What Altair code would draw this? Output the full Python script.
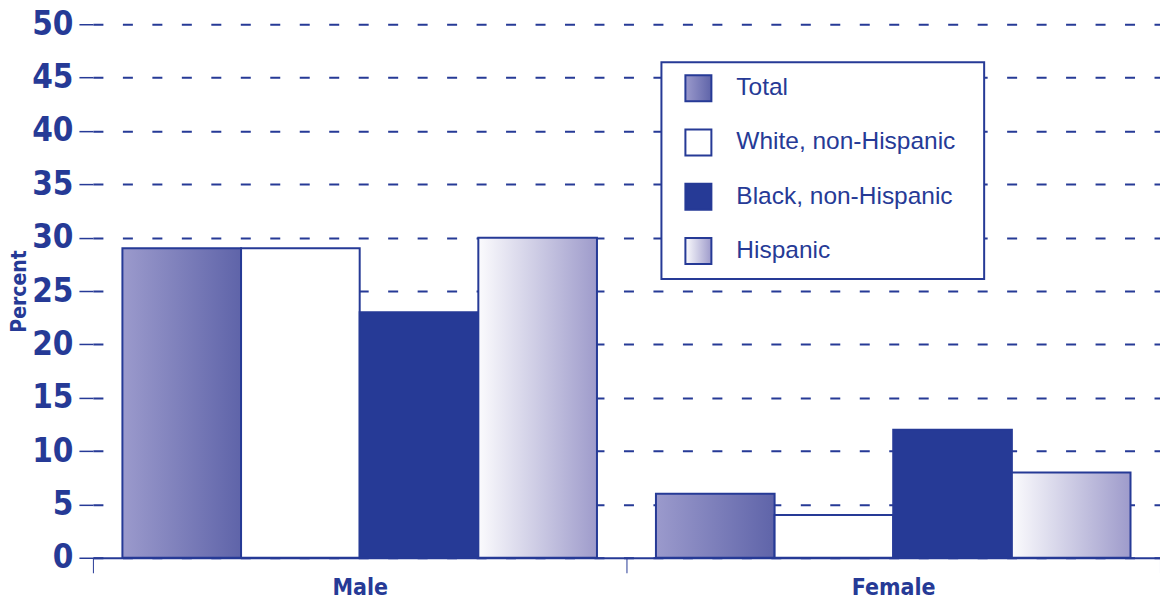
import altair as alt
import pandas as pd

# ---- data ----
sexes = ["Male", "Female"]
series = ["Total", "White, non-Hispanic", "Black, non-Hispanic", "Hispanic"]
male_pct = [29, 29, 23, 30]
female_pct = [6, 4, 12, 8]
y_ticks = [0, 5, 10, 15, 20, 25, 30, 35, 40, 45, 50]

rows = []
for s, m, f in zip(series, male_pct, female_pct):
    rows.append({"sex": "Male", "series": s, "pct": m})
    rows.append({"sex": "Female", "series": s, "pct": f})
df = pd.DataFrame(rows)
legend_df = pd.DataFrame({"series": series})
box_df = pd.DataFrame({"k": [0]})

# ---- style ----
NAVY = "#263a96"
COND = "Liberation Sans Narrow, DejaVu Sans Condensed, sans-serif"
REG = "Liberation Sans, Arial, sans-serif"


def grad(c0, c1):
    return alt.Gradient(
        gradient="linear", x1=0, x2=1, y1=0, y2=0,
        stops=[alt.GradientStop(color=c0, offset=0), alt.GradientStop(color=c1, offset=1)],
    )


fills = {
    series[0]: grad("#9b9acc", "#5f64a9"),
    series[1]: "#ffffff",
    series[2]: NAVY,
    series[3]: grad("#fbfbfd", "#9e9bcb"),
}

x_enc = alt.X(
    "sex:N", sort=sexes,
    scale=alt.Scale(paddingInner=0, paddingOuter=0),
    axis=alt.Axis(
        title=None, labelAngle=0, labelFont=COND, labelFontSize=23, labelFontWeight="bold",
        labelColor=NAVY, labelPadding=4, tickBand="extent", tickSize=15, tickColor=NAVY,
        tickWidth=1, domainColor=NAVY, domainWidth=2, grid=False,
    ),
)
y_enc = alt.Y(
    "pct:Q",
    scale=alt.Scale(domain=[0, 50], nice=False),
    axis=alt.Axis(
        values=y_ticks, title="Percent", titleFont=COND, titleFontSize=21, titleFontWeight="bold",
        titleColor=NAVY, titlePadding=2, labelFont=COND, labelFontSize=33, labelFontWeight="bold",
        labelColor=NAVY, labelPadding=6, tickSize=14, tickColor=NAVY, tickWidth=1.5,
        domain=False, grid=True, gridDash=[10, 19.5], gridColor=NAVY, gridWidth=2,
    ),
)
xoff = alt.XOffset(
    "series:N", sort=series,
    scale=alt.Scale(domain=series, paddingInner=0, paddingOuter=0.2486),
)

bar_layers = []
for s in series:
    bar_layers.append(
        alt.Chart(df)
        .transform_filter(alt.datum.series == s)
        .mark_bar(fill=fills[s], stroke=NAVY, strokeWidth=2, opacity=1)
        .encode(x=x_enc, xOffset=xoff, y=y_enc)
    )
bars = alt.layer(*bar_layers)

leg_scale = alt.Scale(type="point", domain=series, range=[64, 227], padding=0)
box = alt.Chart(box_df).mark_rect(fill="white", stroke=NAVY, strokeWidth=2).encode(
    x=alt.value(569), x2=alt.value(892), y=alt.value(38), y2=alt.value(255)
)
leg_layers = [box]
for s in series:
    leg_layers.append(
        alt.Chart(legend_df)
        .transform_filter(alt.datum.series == s)
        .mark_square(size=676, fill=fills[s], stroke=NAVY, strokeWidth=2, opacity=1, filled=True)
        .encode(x=alt.value(606), y=alt.Y("series:N", scale=leg_scale, axis=None))
    )
leg_layers.append(
    alt.Chart(legend_df)
    .mark_text(align="left", baseline="middle", fontSize=24.5, font=REG, color=NAVY)
    .encode(x=alt.value(644), y=alt.Y("series:N", scale=leg_scale, axis=None), text="series:N")
)
legend = alt.layer(*leg_layers)

chart = (
    alt.layer(bars, legend)
    .resolve_scale(y="independent")
    .properties(
        width=1068, height=534,
        padding={"left": 93, "top": 24, "right": 0, "bottom": 45},
        autosize=alt.AutoSizeParams(type="none"),
        background="white",
    )
    .configure_view(stroke=None)
)

chart.save("out.html", embed_options={"renderer": "svg", "actions": False})
